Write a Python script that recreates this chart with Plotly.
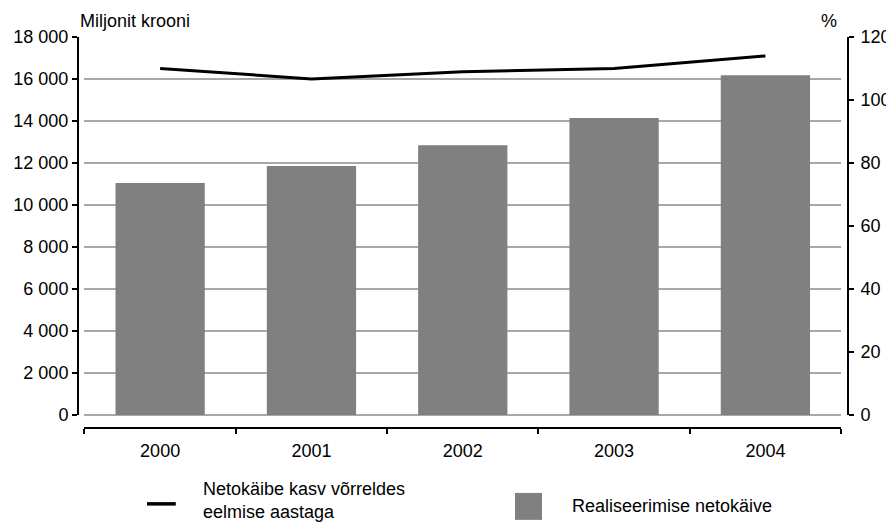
import plotly.graph_objects as go

# ---------------------------------------------------------------------------
# Data
# ---------------------------------------------------------------------------
years = ["2000", "2001", "2002", "2003", "2004"]
netokaive = [11050, 11860, 12850, 14140, 16180]      # miljonit krooni
kasv_pct = [110.0, 106.7, 109.0, 110.0, 114.0]       # % vs eelmine aasta

bar_name = "Realiseerimise netokäive"
line_name = "Netokäibe kasv võrreldes<br>eelmise aastaga"
left_title = "Miljonit krooni"
right_title = "%"

FONT = "Liberation Sans, Arial, Helvetica, sans-serif"
FS = 18
BAR_COLOR = "#808080"
GRID_COLOR = "#a8a8a8"

fig = go.Figure()

fig.add_trace(go.Bar(
    x=years, y=netokaive, name=bar_name,
    marker=dict(color=BAR_COLOR, line=dict(width=0)),
    yaxis="y", showlegend=False,
))

fig.add_trace(go.Scatter(
    x=years, y=kasv_pct, name=line_name,
    mode="lines", line=dict(color="black", width=3),
    yaxis="y2", showlegend=False,
))

# the page body has an 8px margin, so the figure is 8px smaller and
# every margin is measured from that offset origin
fig.update_layout(
    width=886, height=515,
    margin=dict(l=70, r=46, t=29, b=95, autoexpand=False),
    paper_bgcolor="white", plot_bgcolor="white",
    font=dict(family=FONT, size=FS, color="black"),
    separators=". ",
    bargap=0.41,
    xaxis=dict(
        type="category",
        domain=[0.0084, 0.991],
        anchor="free", position=0, automargin=False,
        showline=True, linecolor="black", linewidth=2,
        ticks="outside", tickson="boundaries", ticklen=5, tickwidth=1.5,
        tickcolor="black", showgrid=False, zeroline=False,
        ticklabelstandoff=6,
        tickfont=dict(size=FS),
    ),
    yaxis=dict(
        range=[0, 18000], dtick=2000, tickformat=",",
        domain=[0.0332, 1],
        anchor="free", position=0, automargin=False,
        showline=True, linecolor="black", linewidth=2,
        ticks="outside", ticklen=5, tickwidth=1.5, tickcolor="black",
        showgrid=True, gridcolor=GRID_COLOR, gridwidth=1.5,
        zeroline=True, zerolinecolor=GRID_COLOR, zerolinewidth=1.5,
        tickfont=dict(size=FS),
    ),
    yaxis2=dict(
        range=[0, 120], dtick=20,
        overlaying="y", side="right",
        anchor="free", position=1, automargin=False,
        showline=True, linecolor="black", linewidth=2,
        ticks="outside", ticklen=5, tickwidth=1.5, tickcolor="black",
        showgrid=False, zeroline=False,
        ticklabelstandoff=3,
        tickfont=dict(size=FS),
    ),
)

# axis titles above the axes
fig.add_annotation(text=left_title, xref="paper", yref="paper",
                   x=0, y=1, xanchor="left", yanchor="bottom",
                   yshift=4, showarrow=False, font=dict(size=FS))
fig.add_annotation(text=right_title, xref="paper", yref="paper",
                   x=1, y=1, xanchor="right", yanchor="bottom",
                   xshift=-9, yshift=4, showarrow=False, font=dict(size=FS))

# legend drawn below the plot
fig.add_shape(type="line", xref="paper", yref="paper",
              x0=0.0896, x1=0.127, y0=-0.194, y1=-0.194,
              line=dict(color="black", width=3.5))
fig.add_annotation(text=line_name, xref="paper", yref="paper",
                   x=0.160, y=-0.186, xanchor="left", yanchor="middle",
                   align="left", showarrow=False, font=dict(size=FS))
fig.add_shape(type="rect", xref="paper", yref="paper",
              x0=0.5675, x1=0.6026, y0=-0.166, y1=-0.235,
              fillcolor=BAR_COLOR, line=dict(width=0))
fig.add_annotation(text=bar_name, xref="paper", yref="paper",
                   x=0.639, y=-0.200, xanchor="left", yanchor="middle",
                   showarrow=False, font=dict(size=FS))

fig.write_html("out.html")
